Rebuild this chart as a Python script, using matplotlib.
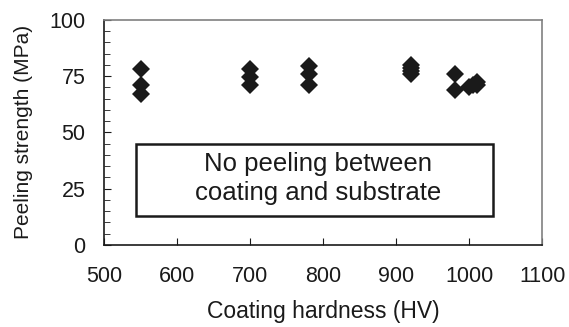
import matplotlib
matplotlib.use("Agg")
import matplotlib.pyplot as plt
from matplotlib.patches import Rectangle
from matplotlib.ticker import MultipleLocator

plt.rcParams['font.family'] = ['Liberation Sans', 'DejaVu Sans']

# hardness (HV) and peeling strength (MPa)
hardness = [550, 550, 550,
            700, 700, 700,
            780, 780, 780,
            920, 920, 920, 920,
            980, 980, 1000, 1005, 1010, 1010]
strength = [78, 71, 67,
            78, 74.5, 71,
            79.5, 76, 71,
            80, 78.5, 77.5, 76,
            76, 69, 70, 71, 72.5, 71]

note = "No peeling between\ncoating and substrate"

fig = plt.figure(figsize=(5.69, 3.27), dpi=100)
ax = fig.add_axes([0.183, 0.251, 0.770, 0.688])

ax.plot(hardness, strength, linestyle='none', marker='D', markersize=8.8,
        color='#1a1a1a', markeredgewidth=0)

ax.set_xlim(500, 1100)
ax.set_ylim(0, 100)
ax.xaxis.set_major_locator(MultipleLocator(100))
ax.yaxis.set_major_locator(MultipleLocator(25))
ax.yaxis.set_minor_locator(MultipleLocator(5))
ax.tick_params(axis='both', which='both', direction='in', labelsize=15.5,
               colors='#1a1a1a')
ax.tick_params(axis='x', which='major', length=5, pad=15.5)
ax.tick_params(axis='y', which='major', length=5, pad=13.5)
ax.tick_params(axis='y', which='minor', length=4)

for side in ['top', 'right']:
    ax.spines[side].set_color('#808080')
for side in ['bottom', 'left']:
    ax.spines[side].set_color('#1a1a1a')
for sp in ax.spines.values():
    sp.set_linewidth(1.2)

# annotation box
ax.add_patch(Rectangle((544, 13), 489, 32, fill=False, edgecolor='#1a1a1a',
                       linewidth=1.8))
ax.text(793, 29.5, note, ha='center', va='center', fontsize=18.5,
        color='#1a1a1a', linespacing=1.22)

ax.set_xlabel("Coating hardness (HV)", fontsize=16.5, labelpad=9, color='#1a1a1a')
ax.set_ylabel("Peeling strength (MPa)", fontsize=15, labelpad=12, color='#1a1a1a')

fig.savefig("out.png", dpi=100)
